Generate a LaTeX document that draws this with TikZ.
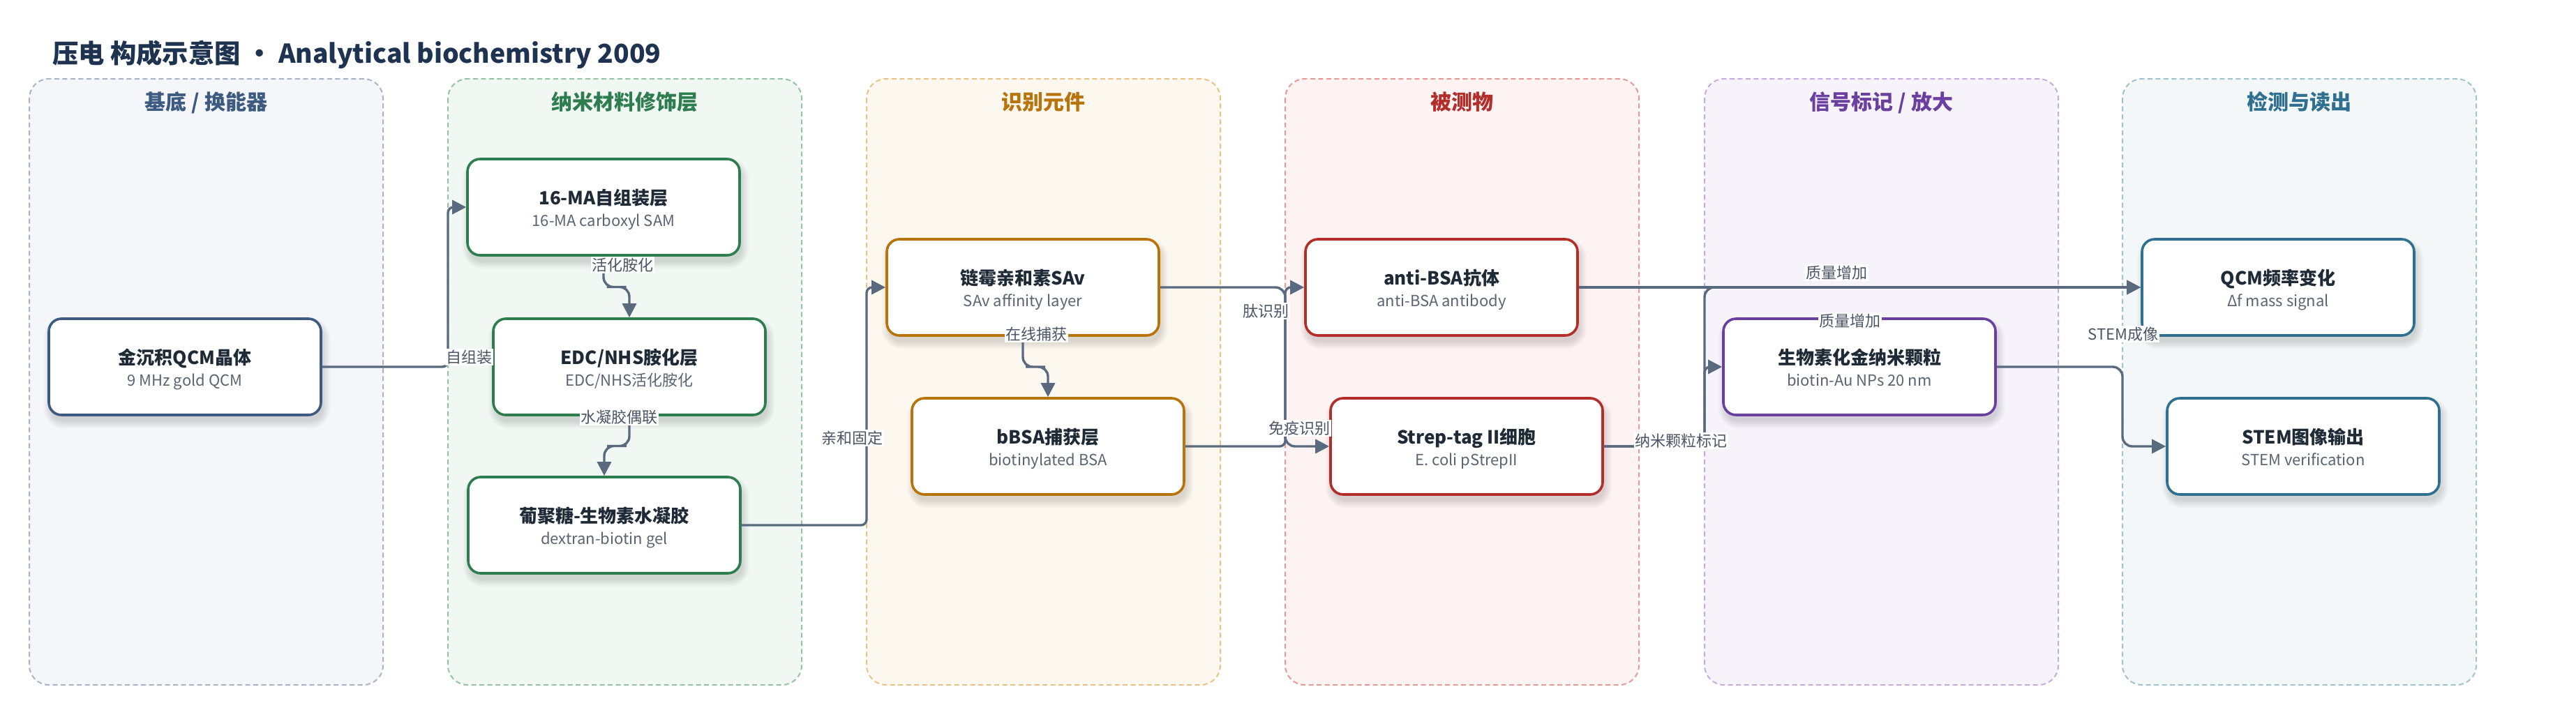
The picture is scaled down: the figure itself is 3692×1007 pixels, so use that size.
\documentclass[tikz,border=0pt]{standalone}
\usepackage{fontspec}
\setmainfont{Noto Sans CJK SC}
\usetikzlibrary{arrows.meta,calc}

\definecolor{titlec}{HTML}{1E3350}
\definecolor{ttlc}{HTML}{1F2A37}
\definecolor{subc}{HTML}{5A6472}
\definecolor{lblc}{HTML}{4A5565}
\definecolor{edgec}{HTML}{596A7F}
% lane colours
\definecolor{c1}{HTML}{3D5A80}\definecolor{f1}{HTML}{F4F6FA}\definecolor{d1}{HTML}{A9B5C7}
\definecolor{c2}{HTML}{2E7D4F}\definecolor{f2}{HTML}{F1F8F3}\definecolor{d2}{HTML}{94C4A5}
\definecolor{c3}{HTML}{B8730A}\definecolor{f3}{HTML}{FDF8EF}\definecolor{d3}{HTML}{E8C385}
\definecolor{c4}{HTML}{B32D2A}\definecolor{f4}{HTML}{FDF3F2}\definecolor{d4}{HTML}{E59B97}
\definecolor{c5}{HTML}{6B3FA0}\definecolor{f5}{HTML}{F7F3FB}\definecolor{d5}{HTML}{C7AAE0}
\definecolor{c6}{HTML}{2F6F8F}\definecolor{f6}{HTML}{F3F7F8}\definecolor{d6}{HTML}{9FC3CF}

\tikzset{
  lanebox/.style={line width=2pt, dash pattern=on 7pt off 4.5pt, rounded corners=28pt},
  lanehead/.style={font=\fontsize{30}{36}\selectfont\bfseries, anchor=base, inner sep=0pt},
  box/.style={draw, line width=3.6pt, fill=white, rounded corners=18pt,
    minimum width=390pt, minimum height=138pt, inner sep=0pt},
  ttl/.style={font=\fontsize{26}{30}\selectfont\bfseries, text=ttlc, anchor=base, inner sep=0pt},
  sub/.style={font=\fontsize{22}{26}\selectfont, text=subc, anchor=base, inner sep=0pt},
  edge/.style={draw=edgec, line width=3.4pt, rounded corners=14pt,
    -{Triangle[length=20pt,width=20pt]}},
  elabel/.style={fill=white, text=lblc, font=\fontsize{22}{26}\selectfont, inner sep=1.5pt},
  titlestyle/.style={anchor=base west, inner sep=0pt, text=titlec,
    font=\fontsize{37.3}{44}\selectfont\bfseries},
}

\newcommand\lanebg[6]{% name, left x, fill, dash colour, header colour, header text
  \draw[lanebox, fill=#3, draw=#4] (#2,113) rectangle ({#2+507},982);
  \node[lanehead, text=#5] (#1) at ({#2+253.5},157) {#6};
}

\newcommand\nbox[6]{% name, x, y, colour, title, subtitle
  \foreach \k in {0,2,4,6,8,10}{%
    \pgfmathsetmacro\rr{18+\k}%
    \fill[black, opacity=0.022, rounded corners=\rr pt]
      ({#2-195-\k+3},{#3-69-\k+9}) rectangle ({#2+195+\k+3},{#3+69+\k+9});
  }%
  \node[box, draw=#4] (#1) at (#2,#3) {};
  \node[ttl] (#1-t) at (#2,{#3-4}) {#5};
  \node[sub] (#1-s) at (#2,{#3+27}) {#6};
}

\begin{document}
\begin{tikzpicture}[x=1pt,y=-1pt]
\useasboundingbox (0,0) rectangle (3692,1007);
\fill[white] (0,0) rectangle (3692,1007);

\node[titlestyle] (title) at (75,90) {压电 构成示意图 · Analytical biochemistry 2009};

% lanes
\lanebg{h1}{42}{f1}{d1}{c1}{基底 / 换能器}
\lanebg{h2}{642}{f2}{d2}{c2}{纳米材料修饰层}
\lanebg{h3}{1242}{f3}{d3}{c3}{识别元件}
\lanebg{h4}{1842}{f4}{d4}{c4}{被测物}
\lanebg{h5}{2443}{f5}{d5}{c5}{信号标记 / 放大}
\lanebg{h6}{3042}{f6}{d6}{c6}{检测与读出}

% routing columns
\coordinate (j2) at (642,0);
\coordinate (j3) at (1242,0);
\coordinate (j4) at (1842,0);
\coordinate (j5) at (2443,0);
\coordinate (j6) at (3042,0);

% nodes
\nbox{q}{265}{526}{c1}{金沉积QCM晶体}{9 MHz gold QCM}
\nbox{m16}{865}{297}{c2}{16-MA自组装层}{16-MA carboxyl SAM}
\nbox{edc}{902}{526}{c2}{EDC/NHS胺化层}{EDC/NHS活化胺化}
\nbox{dex}{866}{753}{c2}{葡聚糖-生物素水凝胶}{dextran-biotin gel}
\nbox{sav}{1466}{412}{c3}{链霉亲和素SAv}{SAv affinity layer}
\nbox{bbsa}{1502}{640}{c3}{bBSA捕获层}{biotinylated BSA}
\nbox{anti}{2066}{412}{c4}{anti-BSA抗体}{anti-BSA antibody}
\nbox{strep}{2102}{640}{c4}{Strep-tag II细胞}{E. coli pStrepII}
\nbox{au}{2665}{526}{c5}{生物素化金纳米颗粒}{biotin-Au NPs 20 nm}
\nbox{qf}{3265}{412}{c6}{QCM频率变化}{Δf mass signal}
\nbox{stem}{3301}{640}{c6}{STEM图像输出}{STEM verification}

% connectors
\draw[edge, rounded corners=8pt] (q.east) -- (q.east -| j2) |- (m16.west);
\draw[edge] (m16.south) |- ($(m16.south)!.5!(edc.north)$) -| (edc.north);
\draw[edge] (edc.south) |- ($(edc.south)!.5!(dex.north)$) -| (dex.north);
\draw[edge, rounded corners=8pt] (dex.east) -- (dex.east -| j3) |- (sav.west);
\draw[edge] (sav.south) |- ($(sav.south)!.5!(bbsa.north)$) -| (bbsa.north);
\draw[edge] (sav.east) -- (sav.east -| j4) |- (strep.west);
\draw[edge, rounded corners=8pt] (bbsa.east) -- (bbsa.east -| j4) |- (anti.west);
\draw[edge] (anti.east) -- (qf.west);
\draw[edge, rounded corners=8pt] (strep.east) -- (strep.east -| j5) |- (au.west);
\draw[edge] (strep.east) -- (strep.east -| j5) |- (qf.west);
\draw[edge] (au.east) -- (au.east -| j6) |- (stem.west);

% connector labels
\node[elabel] (l1) at (672,512) {自组装};
\node[elabel] (l2) at (892,380) {活化胺化};
\node[elabel] (l3) at (887,598) {水凝胶偶联};
\node[elabel] (l4) at (1221,628) {亲和固定};
\node[elabel] (l5) at (1485,479) {在线捕获};
\node[elabel] (l6) at (1814,446) {肽识别};
\node[elabel] (l7) at (1862,614) {免疫识别};
\node[elabel] (l8) at (2409,632) {纳米颗粒标记};
\node[elabel] (l9) at (2632,391) {质量增加};
\node[elabel] (l10) at (2651,460) {质量增加};
\node[elabel] (l11) at (3043,479) {STEM成像};
\end{tikzpicture}
\end{document}
